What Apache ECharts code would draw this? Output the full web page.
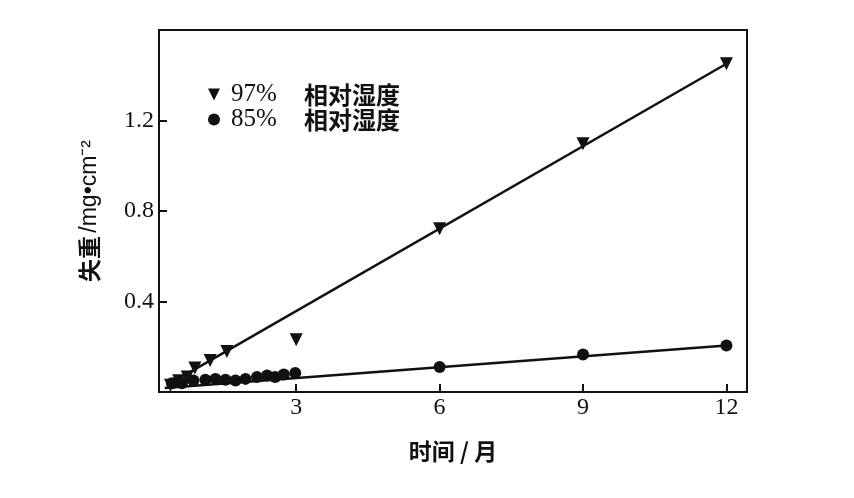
<!DOCTYPE html>
<html>
<head>
<meta charset="utf-8">
<script src="https://cdn.jsdelivr.net/npm/echarts@6/dist/echarts.min.js"></script>
<style>
  html, body { margin: 0; padding: 0; background: #fff; }
  #main { width: 854px; height: 498px; }
</style>
</head>
<body>
<div id="main"></div>
<script>
// 97% 相对湿度 (倒三角)
const rh97X = [0.37, 0.54, 0.72, 0.88, 1.2, 1.55, 3, 6, 9, 12];
const rh97Y = [0.03, 0.05, 0.066, 0.106, 0.139, 0.179, 0.231, 0.722, 1.097, 1.451];
// 85% 相对湿度 (圆点)
const rh85X = [0.40, 0.61, 0.85, 1.10, 1.31, 1.52, 1.73, 1.94, 2.18, 2.39, 2.56, 2.74, 2.98, 6, 9, 12];
const rh85Y = [0.039, 0.039, 0.051, 0.054, 0.058, 0.054, 0.051, 0.058, 0.066, 0.073, 0.066, 0.077, 0.084, 0.110, 0.166, 0.206];
// 拟合直线两端
const fit97X = [0.45, 12];
const fit97Y = [0.048, 1.451];
const fit85X = [0.25, 12];
const fit85Y = [0.018, 0.206];
// 刻度
const xTicks = [3, 6, 9, 12];
const yTicks = [0.4, 0.8, 1.2];

const zip = (xs, ys) => xs.map((x, i) => [x, ys[i]]);
const triPath = 'path://M0,0 L10,0 L5,10 Z';

const chart = echarts.init(document.getElementById('main'));
const option = {
  backgroundColor: '#fff',
  animation: false,
  grid: {
    left: 159, right: 107, top: 30, bottom: 106,
    show: true, borderColor: '#111', borderWidth: 2
  },
  legend: {
    orient: 'vertical',
    left: 203, top: 77,
    itemWidth: 12, itemHeight: 12, itemGap: 0,
    data: [
      { name: '97%', icon: triPath },
      { name: '85%', icon: 'circle' }
    ],
    formatter: name => '{a|' + name + '}{b|相对湿度}',
    textStyle: {
      color: '#111',
      rich: {
        a: { fontFamily: 'Liberation Serif', fontSize: 25, width: 73, lineHeight: 25, padding: [0, 0, 0, 6], color: '#111' },
        b: { fontFamily: 'Noto Sans CJK SC', fontSize: 24, fontWeight: 'bold', lineHeight: 25, color: '#111' }
      }
    }
  },
  xAxis: {
    type: 'value',
    min: 0.13, max: 12.43,
    name: '时间 / 月',
    nameLocation: 'middle',
    nameGap: 48,
    nameTextStyle: { fontFamily: 'Noto Sans CJK SC', fontSize: 23, fontWeight: 'bold', color: '#111' },
    axisLine: { lineStyle: { color: '#111', width: 2 } },
    axisTick: { inside: true, length: 8, customValues: xTicks, lineStyle: { color: '#111', width: 2 } },
    axisLabel: { customValues: xTicks, margin: 4, fontFamily: 'Liberation Serif', fontSize: 24, color: '#111' },
    splitLine: { show: false }
  },
  yAxis: {
    type: 'value',
    min: 0, max: 1.6,
    name: '{c|失重} {s|/mg•cm⁻²}',
    nameLocation: 'middle',
    nameGap: 58,
    nameTextStyle: {
      color: '#111',
      rich: {
        c: { fontFamily: 'Noto Sans CJK SC', fontSize: 23, fontWeight: 'bold', color: '#111' },
        s: { fontFamily: 'Liberation Sans', fontSize: 23, color: '#111' }
      }
    },
    axisLine: { lineStyle: { color: '#111', width: 2 } },
    axisTick: { inside: true, length: 8, customValues: yTicks, lineStyle: { color: '#111', width: 2 } },
    axisLabel: { customValues: yTicks, margin: 5, fontFamily: 'Liberation Serif', fontSize: 24, color: '#111',
      formatter: v => v.toFixed(1) },
    splitLine: { show: false }
  },
  series: [
    {
      name: 'fit97', type: 'line', data: zip(fit97X, fit97Y),
      showSymbol: false, lineStyle: { color: '#111', width: 2.5 }, z: 1
    },
    {
      name: 'fit85', type: 'line', data: zip(fit85X, fit85Y),
      showSymbol: false, lineStyle: { color: '#111', width: 2.5 }, z: 1
    },
    {
      name: '97%', type: 'scatter', data: zip(rh97X, rh97Y),
      symbol: triPath, symbolSize: 13, itemStyle: { color: '#111', opacity: 1 }, z: 3
    },
    {
      name: '85%', type: 'scatter', data: zip(rh85X, rh85Y),
      symbol: 'circle', symbolSize: 12, itemStyle: { color: '#111', opacity: 1 }, z: 3
    }
  ]
};
chart.setOption(option);
</script>
</body>
</html>
